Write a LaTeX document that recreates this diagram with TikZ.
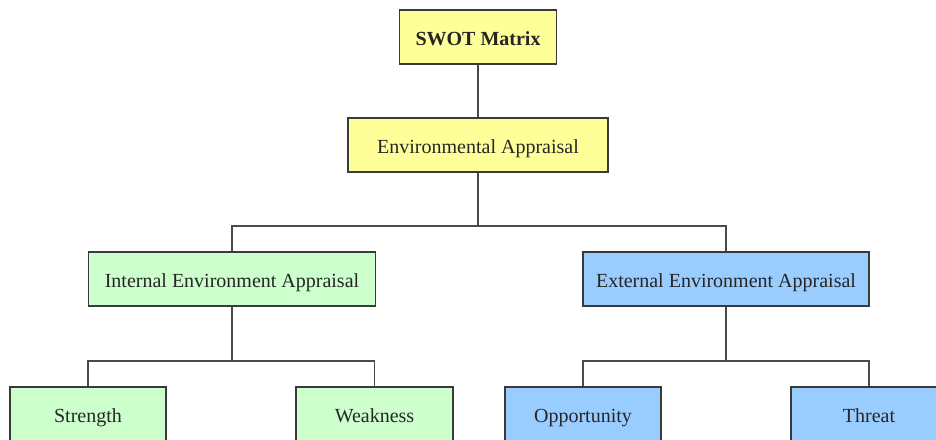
\documentclass[tikz,border=0pt]{standalone}
\usepackage{fontspec}
\setmainfont{Liberation Serif}
\usetikzlibrary{calc}
\definecolor{yel}{HTML}{FFFF99}
\definecolor{grn}{HTML}{CCFFCC}
\definecolor{blu}{HTML}{99CCFF}
\definecolor{edge}{HTML}{3A3A3A}
\definecolor{conn}{HTML}{4A4A4A}
\tikzset{
  box/.style={draw=edge, line width=1.3pt, rectangle, minimum height=54pt, inner sep=0pt, text height=17pt, text depth=0pt, font=\fontsize{20}{23}\selectfont, text=black!85},
  link/.style={draw=conn, line width=1.7pt}
}
\begin{document}
\begin{tikzpicture}[x=1pt,y=-1pt]
\useasboundingbox (0,0) rectangle (936,439);
\node[box, fill=yel, minimum width=157pt, font=\fontsize{20}{23}\selectfont\bfseries] (swot) at (478,37) {SWOT Matrix};
\node[box, fill=yel, minimum width=260pt] (env) at (478,145) {Environmental Appraisal};
\node[box, fill=grn, minimum width=287pt] (int) at (232,279) {Internal Environment Appraisal};
\node[box, fill=blu, minimum width=286pt] (ext) at (726,279) {External Environment Appraisal};
\node[box, fill=grn, minimum width=156pt] (str) at (88,414) {Strength};
\node[box, fill=grn, minimum width=157pt] (weak) at (374.5,414) {Weakness};
\node[box, fill=blu, minimum width=156pt] (opp) at (583,414) {Opportunity};
\node[box, fill=blu, minimum width=156pt] (thr) at (869,414) {Threat};
\draw[link] (swot.south) -- (env.north);
\draw[link] (env.south) -- ++(0,53) coordinate (j1);
\draw[link] (int.north) |- (j1) -| (ext.north);
\draw[link] (int.south) -- ++(0,54) coordinate (j2);
\draw[link] (str.north) |- (j2) -| (weak.north);
\draw[link] (ext.south) -- ++(0,54) coordinate (j3);
\draw[link] (opp.north) |- (j3) -| (thr.north);
\end{tikzpicture}
\end{document}
